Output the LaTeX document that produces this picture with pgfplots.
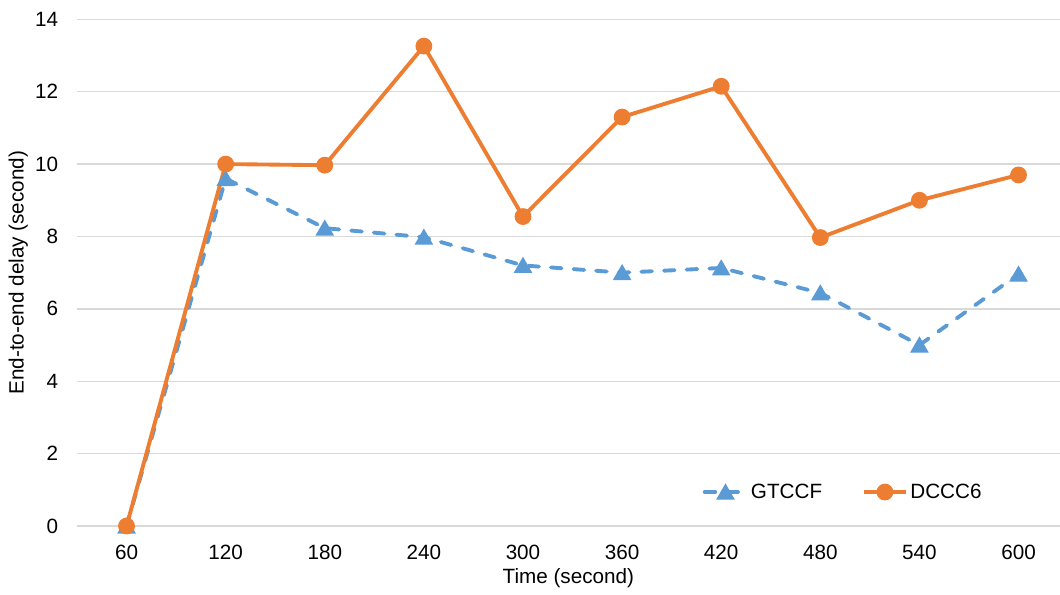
\documentclass[border=0pt]{standalone}
\usepackage{pgfplots}
\pgfplotsset{compat=1.18}
\usepackage{fontspec}
\setmainfont{Liberation Sans}
\definecolor{xblue}{HTML}{5B9BD5}
\definecolor{xorange}{HTML}{ED7D31}
\definecolor{xgrid}{HTML}{D9D9D9}
\begin{document}
\begin{tikzpicture}
\begin{axis}[
    scale only axis,
    width=737pt, height=380pt,
    xmin=-0.5, xmax=9.415,
    ymin=0, ymax=14,
    ytick={0,2,...,14},
    xtick={0,...,9},
    xticklabels={60,120,180,240,300,360,420,480,540,600},
    axis line style={draw=none},
    major tick length=0pt,
    ymajorgrids=true,
    grid style={color=xgrid, line width=1.1pt},
    tick label style={font=\fontsize{15.5}{18}\selectfont},
    label style={font=\fontsize{15.5}{18}\selectfont},
    /pgf/number format/assume math mode=true,
    xticklabel style={anchor=center, yshift=-20pt},
    yticklabel style={anchor=east, inner xsep=0pt, xshift=-14pt},
    xlabel={Time (second)},
    ylabel={End-to-end delay (second)},
    xlabel style={at={(axis description cs:0.5,0)}, anchor=center, yshift=-39pt},
    ylabel style={at={(axis description cs:-0.0597,0.5)}, anchor=center},
    clip=false,
    legend columns=2,
    legend style={draw=none, fill=none, at={(0.78,0.067)}, anchor=center,
        font=\fontsize{15.5}{18}\selectfont,
        /tikz/every even column/.append style={column sep=28pt}},
    legend image code/.code={
        \draw[mark repeat=2,mark phase=2] plot coordinates {(0cm,0cm) (0.55cm,0cm) (1.1cm,0cm)};},
]
\addplot[color=xblue, line width=2.9pt, dash pattern=on 8pt off 9pt, line cap=round,
    mark=triangle*, mark size=7.3pt, mark options={solid, fill=xblue, line width=0.8pt, yshift=-1.6pt}]
    coordinates {(0,0) (1,9.6) (2,8.23) (3,7.98) (4,7.2) (5,7.0) (6,7.13) (7,6.44) (8,5.0) (9,6.96)};
\addlegendentry{GTCCF}
\addplot[color=xorange, line width=2.9pt, mark=*, mark size=5.9pt,
    mark options={solid, fill=xorange, line width=0.8pt}]
    coordinates {(0,0) (1,10.0) (2,9.97) (3,13.26) (4,8.55) (5,11.3) (6,12.15) (7,7.97) (8,9.0) (9,9.7)};
\addlegendentry{DCCC6}
\end{axis}
\pgfresetboundingbox
\path (-57.75pt,-51.75pt) rectangle (737.25pt,394.5pt);
\end{tikzpicture}
\end{document}
